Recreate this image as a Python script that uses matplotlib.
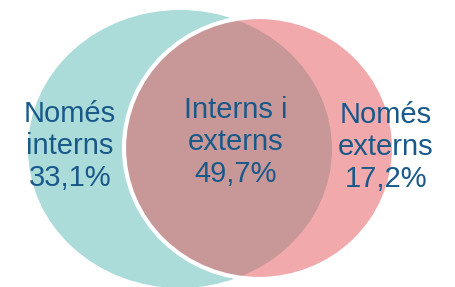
import matplotlib
matplotlib.use("Agg")
import matplotlib.pyplot as plt
from matplotlib.patches import Ellipse
from matplotlib import rcParams
rcParams['font.family'] = 'sans-serif'
rcParams['font.sans-serif'] = ['Liberation Sans']

# groups of the venn and their shares
labels = ["Només\ninterns", "Interns i\nexterns", "Només\nexterns"]
shares = [33.1, 49.7, 17.2]

teal = "#acdcd9"
pink = (229/255., 85/255., 91/255., 0.5)
text_color = "#18598a"

fig = plt.figure(figsize=(4.55, 2.87), dpi=100)
ax = fig.add_axes([0, 0, 1, 1])
ax.set_xlim(0, 455)
ax.set_ylim(287, 0)
ax.axis("off")

# left set (interns) and right set (externs)
ax.add_patch(Ellipse((180, 149), 304, 278, facecolor=teal, edgecolor="none"))
ax.add_patch(Ellipse((259, 148), 270, 262, facecolor=pink,
                     edgecolor="white", linewidth=3))

text_pos = [(70, 146), (236, 142), (386, 147)]
for (x, y), lab, val in zip(text_pos, labels, shares):
    txt = "{}\n{}%".format(lab, "{:.1f}".format(val).replace(".", ","))
    ax.text(x, y, txt, ha="center", va="center", fontsize=21,
            color=text_color, linespacing=1.2)

fig.savefig("out.png", dpi=100)
